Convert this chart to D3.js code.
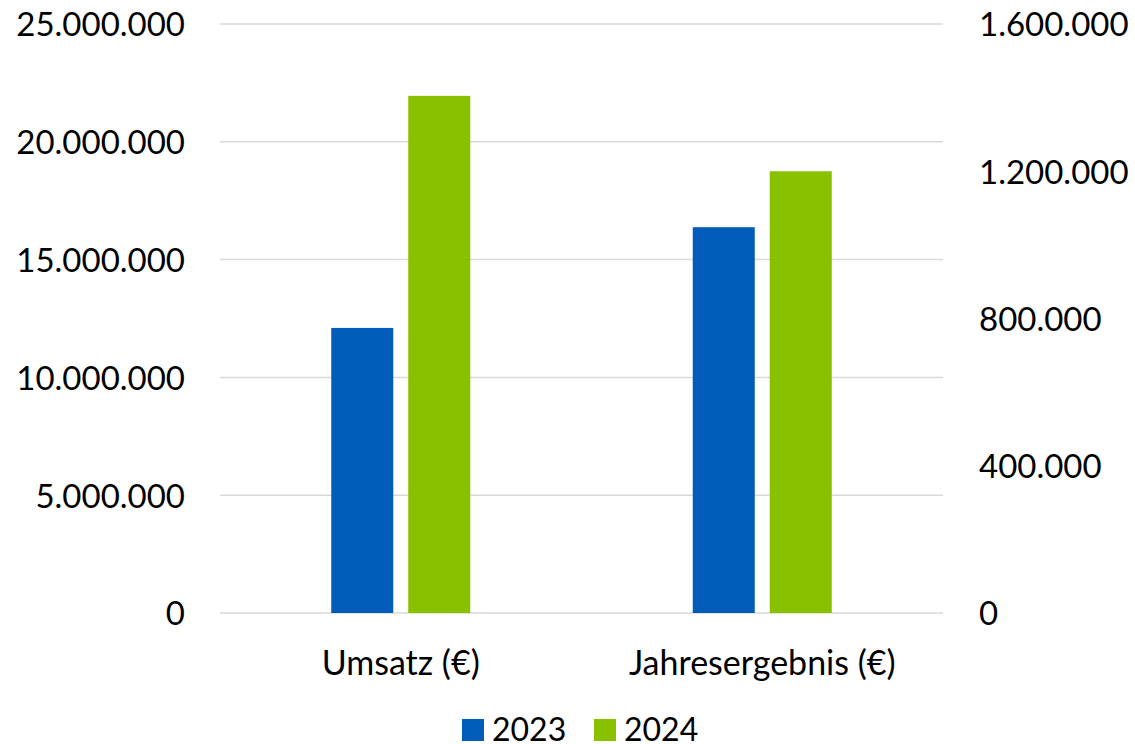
<!DOCTYPE html>
<html>
<head>
<meta charset="utf-8">
<script src="https://cdn.jsdelivr.net/npm/d3@7"></script>
<style>
  body { margin: 0; background: #fff; }
  text { font-family: Lato, "Open Sans", sans-serif; fill: #000; }
</style>
</head>
<body>
<div id="chart"></div>
<script>
const categories = ['Umsatz (€)', 'Jahresergebnis (€)'];
const years = ['2023', '2024'];
const umsatz = [12100000, 21950000];
const jahresergebnis = [1048000, 1200000];
const leftTicks = [0, 5000000, 10000000, 15000000, 20000000, 25000000];
const rightTicks = [0, 400000, 800000, 1200000, 1600000];
const colors = ['#005BB9', '#89C000'];

const w = 1135;
const h = 744;
const plotLeft = 220, plotRight = 943, plotTop = 24, plotBottom = 613;

const de = d3.formatLocale({ decimal: ',', thousands: '.', grouping: [3], currency: ['', '€'] });
const fmt = de.format(',');

const yLeft = d3.scaleLinear().domain([0, 25000000]).range([plotBottom, plotTop]);
const yRight = d3.scaleLinear().domain([0, 1600000]).range([plotBottom, plotTop]);

const x0 = d3.scaleBand()
  .domain(categories)
  .range([plotLeft, plotRight])
  .paddingInner(0.6155)
  .paddingOuter(0.30775);

const x1 = d3.scaleBand()
  .domain(years)
  .range([0, x0.bandwidth()])
  .paddingInner(15 / 77);

const svg = d3.select('#chart')
  .append('svg')
  .attr('width', w)
  .attr('height', h);

// gridlines
svg.append('g')
  .selectAll('line')
  .data(leftTicks)
  .enter()
  .append('line')
  .attr('x1', plotLeft)
  .attr('x2', plotRight)
  .attr('y1', function(d) { return yLeft(d); })
  .attr('y2', function(d) { return yLeft(d); })
  .attr('stroke', '#D9D9D9')
  .attr('stroke-width', 1.5);

// left axis
const gl = svg.append('g')
  .attr('transform', 'translate(' + (plotLeft - 35) + ',0)')
  .call(d3.axisLeft(yLeft).tickValues(leftTicks).tickFormat(fmt).tickSize(0).tickPadding(0));
gl.select('.domain').remove();
gl.selectAll('text').style('font-size', '33px').style('font-family', 'Lato').attr('fill', '#000').attr('dy', '0.36em');

// right axis
const gr = svg.append('g')
  .attr('transform', 'translate(' + (plotRight + 36) + ',0)')
  .call(d3.axisRight(yRight).tickValues(rightTicks).tickFormat(fmt).tickSize(0).tickPadding(0));
gr.select('.domain').remove();
gr.selectAll('text').style('font-size', '33px').style('font-family', 'Lato').attr('fill', '#000').attr('dy', '0.36em');

// bars
const rows = [
  { cat: categories[0], values: umsatz, scale: yLeft },
  { cat: categories[1], values: jahresergebnis, scale: yRight }
];

const groups = svg.selectAll('g.grp')
  .data(rows)
  .enter()
  .append('g')
  .attr('class', 'grp')
  .attr('transform', function(d) { return 'translate(' + x0(d.cat) + ',0)'; });

groups.selectAll('rect')
  .data(function(d) {
    return d.values.map(function(v, i) { return { year: years[i], value: v, scale: d.scale, i: i }; });
  })
  .enter()
  .append('rect')
  .attr('x', function(d) { return x1(d.year); })
  .attr('width', x1.bandwidth())
  .attr('y', function(d) { return d.scale(d.value); })
  .attr('height', function(d) { return plotBottom - d.scale(d.value); })
  .attr('fill', function(d) { return colors[d.i]; });

// category labels
svg.selectAll('text.cat')
  .data(categories)
  .enter()
  .append('text')
  .attr('class', 'cat')
  .text(function(d) { return d; })
  .attr('x', function(d) { return x0(d) + x0.bandwidth() / 2; })
  .attr('y', 675)
  .attr('text-anchor', 'middle')
  .style('font-size', '34px');

// legend
const legendX = [462, 594];
const lg = svg.selectAll('g.leg')
  .data(years)
  .enter()
  .append('g')
  .attr('class', 'leg')
  .attr('transform', function(d, i) { return 'translate(' + legendX[i] + ',0)'; });

lg.append('rect')
  .attr('x', 0)
  .attr('y', 719)
  .attr('width', 22)
  .attr('height', 22)
  .attr('fill', function(d, i) { return colors[i]; });

lg.append('text')
  .text(function(d) { return d; })
  .attr('x', 30)
  .attr('y', 741)
  .style('font-size', '32px');
</script>
</body>
</html>
